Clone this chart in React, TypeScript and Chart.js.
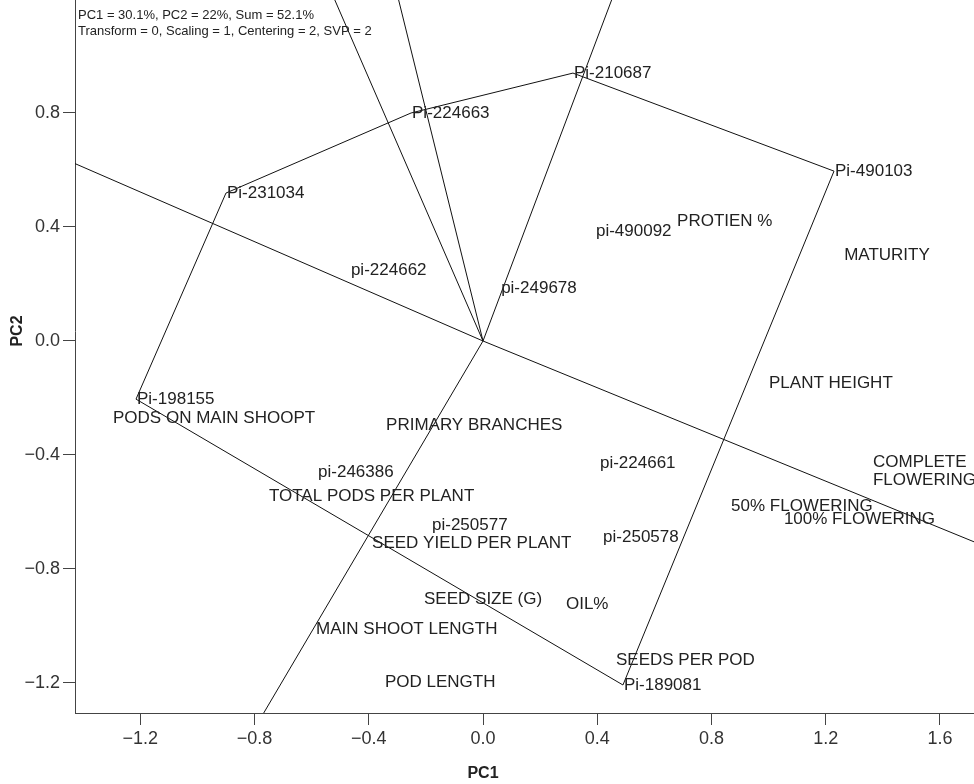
import React, { useEffect, useRef } from "react";
import { Chart, registerables } from "chart.js";

Chart.register(...registerables);

const FONT = "'Liberation Sans', Arial, Helvetica, sans-serif";

// Genotypes at the vertices of the polygon, in drawing order
const hullGenotypes = ["Pi-231034", "Pi-224663", "Pi-210687", "Pi-490103", "Pi-189081", "Pi-198155"];
const hullPC1 = [-0.9, -0.252, 0.315, 1.229, 0.49, -1.215];
const hullPC2 = [0.519, 0.8, 0.94, 0.596, -1.207, -0.204];

// Genotypes lying inside the polygon
const innerGenotypes = ["pi-490092", "pi-224662", "pi-249678", "pi-246386", "pi-224661", "pi-250577", "pi-250578"];
const innerPC1 = [0.392, -0.466, 0.06, -0.581, 0.406, -0.182, 0.417];
const innerPC2 = [0.386, 0.249, 0.186, -0.46, -0.428, -0.646, -0.688];

// Traits
const traits = [
  "PROTIEN %",
  "MATURITY",
  "PLANT HEIGHT",
  "COMPLETE\nFLOWERING",
  "50% FLOWERING",
  "100% FLOWERING",
  "PODS ON MAIN SHOOPT",
  "PRIMARY BRANCHES",
  "TOTAL PODS PER PLANT",
  "SEED YIELD PER PLANT",
  "SEED SIZE (G)",
  "OIL%",
  "MAIN SHOOT LENGTH",
  "SEEDS PER POD",
  "POD LENGTH",
];
const traitPC1 = [0.676, 1.261, 0.998, 1.362, 0.865, 1.05, -1.299, -0.343, -0.753, -0.392, -0.21, 0.287, -0.588, 0.462, -0.347];
const traitPC2 = [0.421, 0.302, -0.147, -0.456, -0.579, -0.625, -0.27, -0.295, -0.544, -0.709, -0.905, -0.923, -1.011, -1.119, -1.196];

const pc1Ticks = [-1.2, -0.8, -0.4, 0, 0.4, 0.8, 1.2, 1.6];
const pc2Ticks = [-1.2, -0.8, -0.4, 0, 0.4, 0.8];
const pc1Range = [-1.4286, 1.7612];
const pc2Range = [-1.3053, 1.3754];

const biplotInfo = [
  "PC1 = 30.1%, PC2 = 22%, Sum = 52.1%",
  "Transform = 0, Scaling = 1, Centering = 2, SVP = 2",
];

const fmtTick = (v: number) => {
  if (Math.abs(v) < 1e-9) return "0.0";
  return (v < 0 ? "\u2212" : "") + Math.abs(v).toFixed(1);
};

// Rays from the origin perpendicular to each side of the polygon
function polygonRays() {
  const n = hullPC1.length;
  const rays: { x: number; y: number }[][] = [];
  for (let i = 0; i < n; i++) {
    const j = (i + 1) % n;
    const dx = hullPC1[j] - hullPC1[i];
    const dy = hullPC2[j] - hullPC2[i];
    let nx = dy;
    let ny = -dx;
    if (nx * hullPC1[i] + ny * hullPC2[i] < 0) {
      nx = -nx;
      ny = -ny;
    }
    const len = Math.hypot(nx, ny);
    rays.push([
      { x: 0, y: 0 },
      { x: (nx / len) * 5, y: (ny / len) * 5 },
    ]);
  }
  return rays;
}

const pointLabelPlugin = {
  id: "pointLabels",
  afterDatasetsDraw(chart: any) {
    const ctx = chart.ctx as CanvasRenderingContext2D;
    ctx.save();
    ctx.font = `17px ${FONT}`;
    ctx.fillStyle = "#222";
    ctx.textAlign = "left";
    ctx.textBaseline = "middle";
    chart.data.datasets.forEach((ds: any, i: number) => {
      const names: string[] | undefined = ds.pointNames;
      if (!names) return;
      const meta = chart.getDatasetMeta(i);
      meta.data.forEach((el: any, k: number) => {
        const name = names[k];
        if (!name) return;
        const lines = name.split("\n");
        lines.forEach((line, m) => {
          ctx.fillText(line, el.x + 1, el.y + (m - (lines.length - 1) / 2) * 18);
        });
      });
    });
    ctx.font = `13px ${FONT}`;
    const { left, top } = chart.chartArea;
    biplotInfo.forEach((t, k) => ctx.fillText(t, left + 3, top + 66 + k * 16));
    ctx.restore();
  },
};

export default function App() {
  const ref = useRef<HTMLCanvasElement>(null);

  useEffect(() => {
    const canvas = ref.current;
    if (!canvas) return;

    const lineStyle = {
      showLine: true,
      pointRadius: 0,
      pointHoverRadius: 0,
      borderColor: "#111",
      borderWidth: 1,
      fill: false,
      tension: 0,
    };

    const hullPoints = hullPC1.map((x, i) => ({ x, y: hullPC2[i] }));
    const datasets: any[] = [
      {
        label: "polygon",
        data: [...hullPoints, hullPoints[0]],
        pointNames: hullGenotypes,
        ...lineStyle,
      },
      ...polygonRays().map((r, i) => ({ label: `ray ${i + 1}`, data: r, ...lineStyle })),
      {
        label: "genotypes",
        data: innerPC1.map((x, i) => ({ x, y: innerPC2[i] })),
        pointNames: innerGenotypes,
        pointRadius: 0,
        showLine: false,
      },
      {
        label: "traits",
        data: traitPC1.map((x, i) => ({ x, y: traitPC2[i] })),
        pointNames: traits,
        pointRadius: 0,
        showLine: false,
      },
    ];

    const axisColor = "#444";
    const chart = new Chart(canvas, {
      type: "scatter",
      data: { datasets },
      options: {
        responsive: false,
        animation: false,
        devicePixelRatio: 1,
        events: [],
        layout: { padding: { top: 29, left: 0, right: 0, bottom: 0 } },
        plugins: {
          legend: { display: false },
          tooltip: { enabled: false },
          title: {
            display: true,
            text: "PC1",
            position: "bottom",
            align: "center",
            color: "#222",
            font: { family: FONT, size: 16, weight: "bold" },
            padding: { top: 0, bottom: 1 },
          },
        },
        scales: {
          x: {
            type: "linear",
            position: "bottom",
            min: pc1Range[0],
            max: pc1Range[1],
            afterBuildTicks: (s: any) => {
              s.ticks = pc1Ticks.map((value) => ({ value }));
            },
            afterFit: (s: any) => {
              s.height = 50.8;
            },
            ticks: {
              autoSkip: false,
              maxRotation: 0,
              padding: 3,
              color: "#333",
              font: { family: FONT, size: 18 },
              callback: (v: any) => fmtTick(Number(v)),
            },
            grid: { drawOnChartArea: false, drawTicks: true, tickLength: 12, color: axisColor },
            border: { display: true, color: axisColor, width: 1 },
          },
          y: {
            type: "linear",
            position: "left",
            min: pc2Range[0],
            max: pc2Range[1],
            afterBuildTicks: (s: any) => {
              s.ticks = pc2Ticks.map((value) => ({ value }));
            },
            afterFit: (s: any) => {
              s.width = 95;
            },
            ticks: {
              autoSkip: false,
              padding: 3,
              color: "#333",
              font: { family: FONT, size: 18 },
              callback: (v: any) => fmtTick(Number(v)),
            },
            grid: { drawOnChartArea: false, drawTicks: true, tickLength: 12, color: axisColor },
            border: { display: true, color: axisColor, width: 1 },
            title: {
              display: true,
              text: "PC2",
              color: "#222",
              font: { family: FONT, size: 16, weight: "bold" },
              padding: { top: 28.4, bottom: 0 },
            },
          },
        },
      } as any,
      plugins: [pointLabelPlugin],
    });

    return () => chart.destroy();
  }, []);

  return (
    <div
      style={{
        position: "fixed",
        left: 0,
        top: 0,
        width: 974,
        height: 784,
        overflow: "hidden",
        background: "#fff",
      }}
    >
      <canvas
        ref={ref}
        width={1006}
        height={864}
        style={{ position: "absolute", left: -20, top: -80, width: 1006, height: 864 }}
      />
    </div>
  );
}
